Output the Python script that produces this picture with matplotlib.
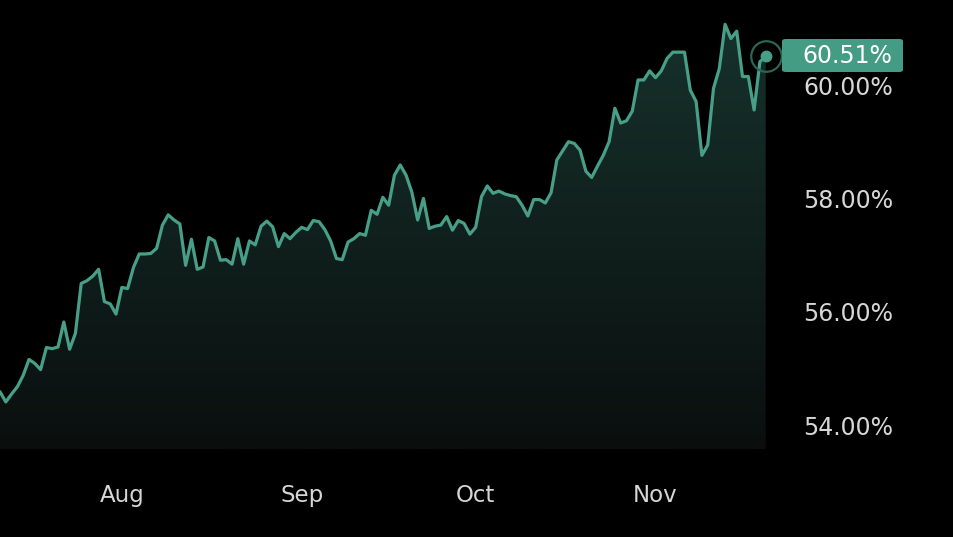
import numpy as np
import pandas as pd
import matplotlib
matplotlib.use("Agg")
import matplotlib.pyplot as plt
import matplotlib.dates as mdates
from matplotlib.colors import LinearSegmentedColormap
from matplotlib.patches import FancyBboxPatch

# daily dominance values (%)
start_date = "2024-07-11"
dominance = [
    54.59, 54.41, 54.55, 54.68, 54.88, 55.16, 55.09, 54.98, 55.37, 55.35,
    55.38, 55.82, 55.34, 55.62, 56.50, 56.55, 56.63, 56.75, 56.18, 56.14,
    55.96, 56.43, 56.41, 56.78, 57.02, 57.02, 57.03, 57.12, 57.53, 57.71,
    57.62, 57.55, 56.82, 57.28, 56.75, 56.79, 57.31, 57.25, 56.91, 56.92,
    56.84, 57.29, 56.84, 57.25, 57.18, 57.51, 57.60, 57.50, 57.15, 57.38,
    57.29, 57.40, 57.49, 57.45, 57.61, 57.59, 57.45, 57.25, 56.94, 56.92,
    57.23, 57.29, 57.38, 57.35, 57.79, 57.72, 58.02, 57.88, 58.41, 58.59,
    58.41, 58.11, 57.62, 58.00, 57.47, 57.51, 57.53, 57.68, 57.44, 57.61,
    57.56, 57.37, 57.49, 58.03, 58.22, 58.09, 58.13, 58.08, 58.05, 58.03,
    57.88, 57.69, 57.98, 57.98, 57.92, 58.10, 58.68, 58.84, 59.00, 58.97,
    58.85, 58.48, 58.37, 58.57, 58.76, 59.00, 59.59, 59.33, 59.37, 59.54,
    60.09, 60.09, 60.25, 60.13, 60.25, 60.47, 60.58, 60.58, 60.58, 59.91,
    59.71, 58.76, 58.94, 59.94, 60.29, 61.07, 60.82, 60.95, 60.15, 60.15,
    59.56, 60.41, 60.51,
]
y_ticks = [54, 56, 58, 60]
y_min, y_max = 53.58, 61.5

line_color = "#479f87"
box_color = "#449c84"
text_color = "#d6d6d6"

dates = pd.date_range(start_date, periods=len(dominance), freq="D")
values = np.array(dominance)

fig = plt.figure(figsize=(9.54, 5.37), dpi=100, facecolor="black")
ax = fig.add_axes([0, 88 / 537, 765.7 / 954, 449 / 537])
ax.set_facecolor("black")

# gradient area under the line
x0, x1 = mdates.date2num(dates[0]), mdates.date2num(dates[-1])
cmap = LinearSegmentedColormap.from_list("fill", ["#0a0f0e", "#17332d"])
grad = np.linspace(1, 0, 256).reshape(-1, 1)
img = ax.imshow(grad, cmap=cmap, aspect="auto", origin="upper",
                extent=[x0, x1, y_min, y_max], zorder=1)
poly = ax.fill_between(dates, values, y_min, facecolor="none",
                       edgecolor="none")
img.set_clip_path(poly.get_paths()[0], transform=ax.transData)

ax.plot(dates, values, color=line_color, lw=2.3, zorder=3,
        solid_joinstyle="round", solid_capstyle="round")

# end marker
ax.plot(dates[-1], values[-1], "o", ms=22, mfc="none", mec="#2a6656",
        mew=1.6, zorder=4, clip_on=False)
ax.plot(dates[-1], values[-1], "o", ms=7.5, color=line_color, zorder=5,
        clip_on=False)

ax.set_xlim(dates[0], dates[-1])
ax.set_ylim(y_min, y_max)

ax.xaxis.set_major_locator(mdates.MonthLocator())
ax.xaxis.set_major_formatter(mdates.DateFormatter("%b"))
ax.yaxis.tick_right()
ax.set_yticks(y_ticks)
ax.set_yticklabels([f"{v:.2f}%" for v in y_ticks])
ax.tick_params(axis="y", length=0, pad=27, labelsize=17,
               labelcolor=text_color)
ax.tick_params(axis="x", length=0, pad=25, labelsize=16.5,
               labelcolor=text_color)
for s in ax.spines.values():
    s.set_visible(False)

# current value badge
badge = FancyBboxPatch((782 / 954, (537 - 72) / 537), 121 / 954, 33 / 537,
                       boxstyle="round,pad=0,rounding_size=0.004",
                       transform=fig.transFigure, facecolor=box_color,
                       edgecolor="none")
fig.add_artist(badge)
fig.text(847 / 954, 1 - 56 / 537, f"{values[-1]:.2f}%", color="white",
         fontsize=17, ha="center", va="center")

fig.savefig("out.png", dpi=100, facecolor="black")
